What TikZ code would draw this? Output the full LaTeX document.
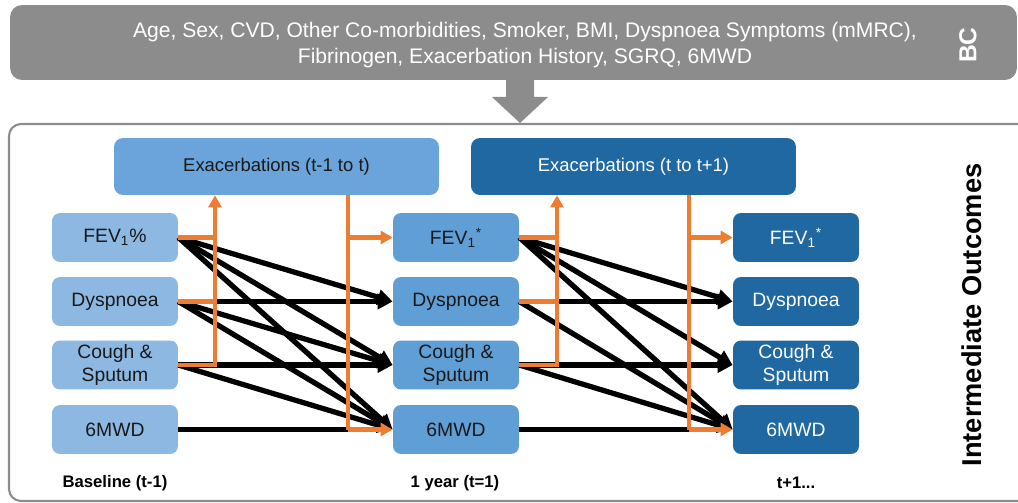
\documentclass[tikz,border=0pt]{standalone}
\usepackage{fontspec}
\setmainfont{Liberation Sans}
\usetikzlibrary{arrows.meta}
\definecolor{bcgray}{RGB}{140,140,140}
\definecolor{paleblue}{RGB}{141,184,226}
\definecolor{midblue}{RGB}{96,158,214}
\definecolor{exblue}{RGB}{106,164,218}
\definecolor{deepblue}{RGB}{31,104,162}
\definecolor{exorange}{RGB}{237,125,49}

\begin{document}
\begin{tikzpicture}[x=0.02cm,y=-0.02cm,
  outcome/.style={rounded corners=0.16cm,minimum width=2.52cm,minimum height=0.98cm,inner sep=1pt,align=center,font=\fontsize{11}{13}\selectfont},
  baseA/.style={outcome,fill=paleblue,text=black!90},
  baseB/.style={outcome,fill=midblue,text=black!90},
  baseC/.style={outcome,fill=deepblue,text=white},
  exac/.style={rounded corners=0.18cm,minimum width=6.5cm,minimum height=1.14cm,font=\fontsize{10.5}{13}\selectfont},
  blk/.style={line width=3pt,-{Triangle[length=0.3cm,width=0.3cm]}},
  org/.style={exorange,line width=2.6pt},
  orgarrow/.style={org,-{Triangle[length=0.24cm,width=0.26cm]}},
  timelabel/.style={font=\bfseries\fontsize{9.5}{11}\selectfont}]
\useasboundingbox (0,0) rectangle (1018,503);
\clip (0,0) rectangle (1018,503);

\node[fill=bcgray,rounded corners=0.24cm,minimum width=20.14cm,minimum height=1.5cm] (bc) at (513.5,42.5) {};
\node[text=white,align=center,font=\fontsize{12}{14.5}\selectfont] (bctext) at (525,45)
  {Age, Sex, CVD, Other Co-morbidities, Smoker, BMI, Dyspnoea Symptoms (mMRC),\\
   Fibrinogen, Exacerbation History, SGRQ, 6MWD};
\node[rotate=90,text=white,font=\bfseries\fontsize{14}{16}\selectfont] (bclabel) at (968,45) {BC};
\fill[bcgray] (506,80) -- (534,80) -- (534,97) -- (548,97) -- (520,123) -- (492,97) -- (506,97) -- cycle;
\draw[bcgray,line width=1.2pt,rounded corners=0.24cm] (9,124) rectangle (1040,501);

\node[exac,fill=exblue,text=black!90] (exA) at (276.5,166.5) {Exacerbations (t-1 to t)};
\node[exac,fill=deepblue,text=white] (exB) at (633.5,166.5) {Exacerbations (t to t+1)};

\node[baseA] (fevA) at (115,237.5) {FEV\textsubscript{1}\%};
\node[baseA] (dysA) at (115,301.5) {Dyspnoea};
\node[baseA] (cghA) at (115,365) {Cough \&\\Sputum};
\node[baseA] (mwdA) at (115,429.5) {6MWD};
\node[baseB] (fevB) at (456,237.5) {FEV\textsubscript{1}\textsuperscript{*}};
\node[baseB] (dysB) at (456,301.5) {Dyspnoea};
\node[baseB] (cghB) at (456,365) {Cough \&\\Sputum};
\node[baseB] (mwdB) at (456,429.5) {6MWD};
\node[baseC] (fevC) at (796,237.5) {FEV\textsubscript{1}\textsuperscript{*}};
\node[baseC] (dysC) at (796,301.5) {Dyspnoea};
\node[baseC] (cghC) at (796,365) {Cough \&\\Sputum};
\node[baseC] (mwdC) at (796,429.5) {6MWD};

\node[timelabel] (tA) at (115,483) {Baseline (t-1)};
\node[timelabel] (tB) at (455,483) {1 year (t=1)};
\node[timelabel] (tC) at (796,483) {t+1...};
\node[rotate=90,font=\bfseries\fontsize{15.5}{18}\selectfont] (io) at (972,315) {Intermediate Outcomes};

\coordinate (upA) at (215,0);
\coordinate (dnA) at (348,0);
\coordinate (upB) at (557,0);
\coordinate (dnB) at (689,0);

\foreach \s/\t in {fevA/dysB,fevA/cghB,fevA/mwdB,dysA/dysB,dysA/cghB,dysA/mwdB,cghA/cghB,cghA/mwdB,
                   fevB/dysC,fevB/cghC,fevB/mwdC,dysB/dysC,dysB/mwdC,cghB/cghC,cghB/mwdC}
  \draw[blk] (\s.east) -- (\t.west);
\draw[line width=2.4pt] (mwdA.east) -- (mwdA.east -| dnA);
\draw[line width=2.4pt] (mwdB.east) -- (mwdB.east -| dnB);

\foreach \a/\b in {A/B,B/C} {
  \draw[orgarrow] (cgh\a.east) -| (up\a |- ex\a.south);
  \draw[org] (fev\a.east) -- (fev\a.east -| up\a);
  \draw[org] (dys\a.east) -- (dys\a.east -| up\a);
  \draw[org] (dn\a |- ex\a.south) -- (mwd\b.west -| dn\a);
  \draw[orgarrow] (fev\b.west -| dn\a) -- (fev\b.west);
  \draw[orgarrow] (mwd\b.west -| dn\a) -- (mwd\b.west);
}
\end{tikzpicture}
\end{document}
